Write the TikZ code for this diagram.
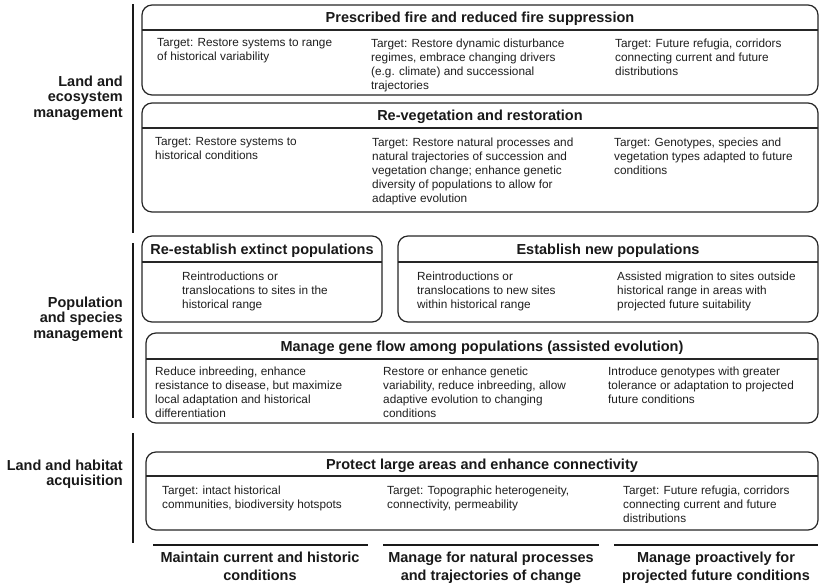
\documentclass[tikz,border=0pt]{standalone}
\usepackage{fontspec}
\setmainfont{Liberation Sans}
\begin{document}
\begin{tikzpicture}[x=1pt,y=-1pt,
  box/.style={draw=black!85, line width=1.2pt, rounded corners=10pt, fill=white},
  hdr/.style={draw=black!85, line width=1.2pt},
  ttl/.style={font=\fontsize{14.5}{17}\selectfont\bfseries, anchor=base, inner sep=0pt, text=black!90},
  body/.style={font=\fontsize{11.8}{14}\selectfont, anchor=north west, align=left, inner sep=0pt, text=black!88},
  side/.style={font=\fontsize{14.5}{15.5}\selectfont\bfseries, anchor=north east, align=right, inner sep=0pt, text=black!90},
  foot/.style={font=\fontsize{14.5}{18}\selectfont\bfseries, anchor=north, align=center, inner sep=0pt, text=black!90},
  bar/.style={line width=2.6pt, black!90},
  vbar/.style={line width=2.4pt, black!90}
]
\useasboundingbox (0,0) rectangle (822,587);

% vertical group bars
\coordinate (v1a) at (133,4);   \coordinate (v1b) at (133,233);
\coordinate (v2a) at (133,243); \coordinate (v2b) at (133,418);
\coordinate (v3a) at (133,433); \coordinate (v3b) at (133,543);
\draw[vbar] (v1a) -- (v1b);
\draw[vbar] (v2a) -- (v2b);
\draw[vbar] (v3a) -- (v3b);

% side labels
\node[side] (s1) at (123,75.5) {Land and\\ecosystem\\management};
\node[side] (s2) at (123,296.5) {Population\\and species\\management};
\node[side] (s3) at (123,459.5) {Land and habitat\\acquisition};

% Box 1
\draw[box] (142,5) rectangle (818,95);
\draw[hdr] (142,30) -- (818,30);
\node[ttl] (t1) at (480,22.7) {Prescribed fire and reduced fire suppression};
\node[body] (b1a) at (157,38.4) {Target: Restore systems to range\\of historical variability};
\node[body] (b1b) at (371,38.4) {Target: Restore dynamic disturbance\\regimes, embrace changing drivers\\(e.g. climate) and successional\\trajectories};
\node[body] (b1c) at (615,38.4) {Target: Future refugia, corridors\\connecting current and future\\distributions};

% Box 2
\draw[box] (142,103) rectangle (818,212);
\draw[hdr] (142,128) -- (818,128);
\node[ttl] (t2) at (480,120.7) {Re-vegetation and restoration};
\node[body] (b2a) at (155,137.4) {Target: Restore systems to\\historical conditions};
\node[body] (b2b) at (372,137.4) {Target: Restore natural processes and\\natural trajectories of succession and\\vegetation change; enhance genetic\\diversity of populations to allow for\\adaptive evolution};
\node[body] (b2c) at (614,137.4) {Target: Genotypes, species and\\vegetation types adapted to future\\conditions};

% Box 3
\draw[box] (142,236) rectangle (382,322);
\draw[hdr] (142,262) -- (382,262);
\node[ttl] (t3) at (262,254.2) {Re-establish extinct populations};
\node[body] (b3a) at (182,272) {Reintroductions or\\translocations to sites in the\\historical range};

% Box 4
\draw[box] (398,236) rectangle (818,322);
\draw[hdr] (398,262) -- (818,262);
\node[ttl] (t4) at (608,254.2) {Establish new populations};
\node[body] (b4a) at (417,272) {Reintroductions or\\translocations to new sites\\within historical range};
\node[body] (b4b) at (617,272) {Assisted migration to sites outside\\historical range in areas with\\projected future suitability};

% Box 5
\draw[box] (146,333) rectangle (818,423);
\draw[hdr] (146,359) -- (818,359);
\node[ttl] (t5) at (482,351.2) {Manage gene flow among populations (assisted evolution)};
\node[body] (b5a) at (155,366.4) {Reduce inbreeding, enhance\\resistance to disease, but maximize\\local adaptation and historical\\differentiation};
\node[body] (b5b) at (383,366.4) {Restore or enhance genetic\\variability, reduce inbreeding, allow\\adaptive evolution to changing\\conditions};
\node[body] (b5c) at (608,366.4) {Introduce genotypes with greater\\tolerance or adaptation to projected\\future conditions};

% Box 6
\draw[box] (146,452) rectangle (818,530);
\draw[hdr] (146,476) -- (818,476);
\node[ttl] (t6) at (482,469.2) {Protect large areas and enhance connectivity};
\node[body] (b6a) at (162,485.4) {Target: intact historical\\communities, biodiversity hotspots};
\node[body] (b6b) at (387,485.4) {Target: Topographic heterogeneity,\\connectivity, permeability};
\node[body] (b6c) at (623,485.4) {Target: Future refugia, corridors\\connecting current and future\\distributions};

% bottom bars
\coordinate (h1a) at (153,545); \coordinate (h1b) at (368,545);
\coordinate (h2a) at (383,545); \coordinate (h2b) at (599,545);
\coordinate (h3a) at (614,545); \coordinate (h3b) at (818,545);
\draw[bar] (h1a) -- (h1b);
\draw[bar] (h2a) -- (h2b);
\draw[bar] (h3a) -- (h3b);

\node[foot] (f1) at (260,551.5) {Maintain current and historic\\conditions};
\node[foot] (f2) at (491,551.5) {Manage for natural processes\\and trajectories of change};
\node[foot] (f3) at (716,551.5) {Manage proactively for\\projected future conditions};
\end{tikzpicture}
\end{document}
